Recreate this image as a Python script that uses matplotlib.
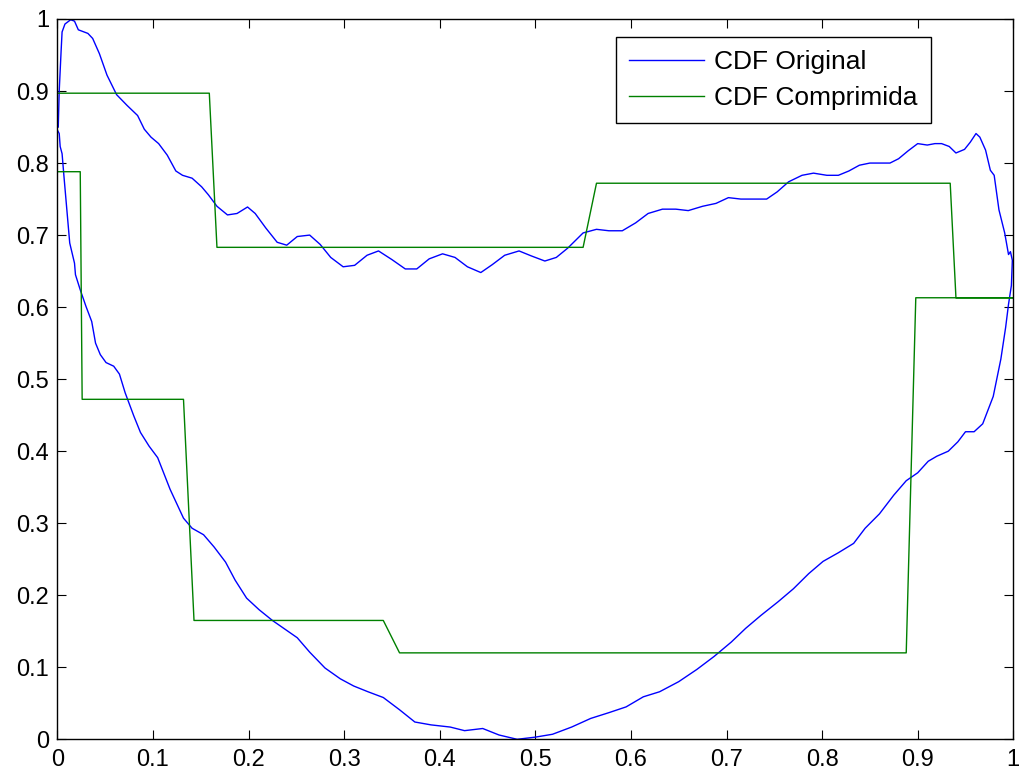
import matplotlib
matplotlib.use("Agg")
import matplotlib.pyplot as plt
import numpy as np

# ---- data ----
orig_lower_x = [0.000,0.002,0.003,0.005,0.007,0.010,0.013,0.018,0.019,0.024,
                0.030,0.036,0.040,0.045,0.051,0.059,0.065,0.071,0.080,0.087,
                0.096,0.105,0.118,0.132,0.141,0.153,0.164,0.176,0.186,0.198,
                0.211,0.225,0.237,0.251,0.264,0.280,0.296,0.310,0.325,0.341,
                0.358,0.374,0.391,0.411,0.426,0.445,0.462,0.481,0.500,0.518,
                0.538,0.558,0.577,0.595,0.613,0.630,0.650,0.669,0.687,0.705,
                0.720,0.736,0.754,0.770,0.786,0.801,0.817,0.833,0.845,0.860,
                0.875,0.888,0.900,0.911,0.920,0.932,0.942,0.950,0.959,0.968,
                0.979,0.987,0.992,0.995,0.998]
orig_lower_y = [0.846,0.841,0.823,0.813,0.781,0.735,0.689,0.661,0.645,0.624,
                0.601,0.580,0.550,0.534,0.523,0.518,0.507,0.481,0.449,0.426,
                0.407,0.391,0.347,0.307,0.293,0.284,0.267,0.246,0.221,0.196,
                0.180,0.165,0.154,0.141,0.121,0.099,0.084,0.074,0.066,0.058,
                0.041,0.024,0.020,0.017,0.012,0.015,0.006,0.000,0.003,0.007,
                0.017,0.029,0.037,0.045,0.059,0.066,0.080,0.097,0.115,0.135,
                0.154,0.172,0.191,0.209,0.230,0.247,0.259,0.272,0.293,0.313,
                0.339,0.359,0.370,0.386,0.393,0.400,0.413,0.427,0.427,0.438,
                0.476,0.528,0.572,0.604,0.630]
orig_upper_x = [0.001,0.002,0.004,0.005,0.008,0.014,0.018,0.022,0.032,0.037,
                0.044,0.052,0.062,0.073,0.084,0.091,0.098,0.106,0.115,0.124,
                0.131,0.141,0.151,0.158,0.167,0.178,0.188,0.199,0.207,0.218,
                0.230,0.240,0.251,0.264,0.275,0.286,0.299,0.311,0.324,0.336,
                0.350,0.364,0.376,0.389,0.403,0.416,0.429,0.443,0.455,0.468,
                0.483,0.496,0.510,0.522,0.534,0.550,0.564,0.577,0.591,0.605,
                0.618,0.633,0.647,0.660,0.675,0.689,0.702,0.715,0.728,0.742,
                0.753,0.765,0.779,0.791,0.805,0.817,0.828,0.839,0.850,0.861,
                0.871,0.880,0.890,0.900,0.910,0.918,0.925,0.933,0.940,0.949,
                0.955,0.961,0.965,0.971,0.976,0.980,0.985,0.991,0.995,0.997,
                0.999]
orig_upper_y = [0.850,0.900,0.956,0.982,0.993,0.999,0.997,0.985,0.980,0.973,
                0.952,0.922,0.895,0.880,0.866,0.847,0.836,0.827,0.811,0.789,
                0.783,0.779,0.767,0.756,0.740,0.728,0.730,0.739,0.730,0.710,
                0.690,0.686,0.698,0.700,0.687,0.669,0.656,0.658,0.672,0.678,
                0.666,0.653,0.653,0.667,0.674,0.669,0.656,0.648,0.659,0.672,
                0.678,0.671,0.664,0.669,0.682,0.703,0.708,0.706,0.706,0.717,
                0.730,0.736,0.736,0.734,0.740,0.744,0.752,0.750,0.750,0.750,
                0.760,0.774,0.783,0.786,0.783,0.783,0.789,0.797,0.800,0.800,
                0.800,0.806,0.817,0.827,0.825,0.827,0.827,0.823,0.814,0.819,
                0.829,0.841,0.836,0.818,0.790,0.783,0.735,0.703,0.673,0.677,
                0.665]

comp_lower_x = [0.000,0.024,0.026,0.132,0.143,0.341,0.358,0.888,0.898,1.000]
comp_lower_y = [0.788,0.788,0.472,0.472,0.165,0.165,0.120,0.120,0.613,0.613]
comp_upper_x = [0.000,0.159,0.167,0.550,0.564,0.934,0.940,1.000]
comp_upper_y = [0.897,0.897,0.683,0.683,0.772,0.772,0.613,0.613]

labels = ["CDF Original", "CDF Comprimida"]
ticks = [0, 0.1, 0.2, 0.3, 0.4, 0.5, 0.6, 0.7, 0.8, 0.9, 1]
tick_labels = ["0", "0.1", "0.2", "0.3", "0.4", "0.5", "0.6", "0.7", "0.8", "0.9", "1"]

# ---- figure ----
plt.rcParams['font.family'] = ['Liberation Sans', 'DejaVu Sans']
fig = plt.figure(figsize=(10.22, 7.8), dpi=100)
ax = fig.add_axes([57.3/1022, (780-739.3)/780, 956/1022, 720.3/780])

bx = orig_lower_x + orig_upper_x[::-1]
by = orig_lower_y + orig_upper_y[::-1]
gx = comp_lower_x + comp_upper_x[::-1]
gy = comp_lower_y + comp_upper_y[::-1]

ax.plot(bx, by, color=(0, 0, 1), lw=1.0, label=labels[0])
ax.plot(gx, gy, color=(0, 0.5, 0), lw=1.0, label=labels[1])

ax.set_xlim(0, 1)
ax.set_ylim(0, 1)
ax.set_xticks(ticks)
ax.set_xticklabels(tick_labels)
ax.set_yticks(ticks)
ax.set_yticklabels(tick_labels)
ax.tick_params(direction='in', top=True, right=True, length=6.5, width=0.8,
               labelsize=17, colors='black')
ax.tick_params(axis='x', pad=7)
ax.tick_params(axis='y', pad=6)
for s in ax.spines.values():
    s.set_linewidth(1.0)
    s.set_color('black')

leg = ax.legend(loc='upper right', bbox_to_anchor=(0.9136, 0.9754),
                borderaxespad=0, fontsize=19, fancybox=False,
                edgecolor='black', framealpha=1, handlelength=2.85,
                handletextpad=0.38, borderpad=0.5, labelspacing=0.45)
leg.get_frame().set_linewidth(1.0)

fig.savefig("out.png", dpi=100)
